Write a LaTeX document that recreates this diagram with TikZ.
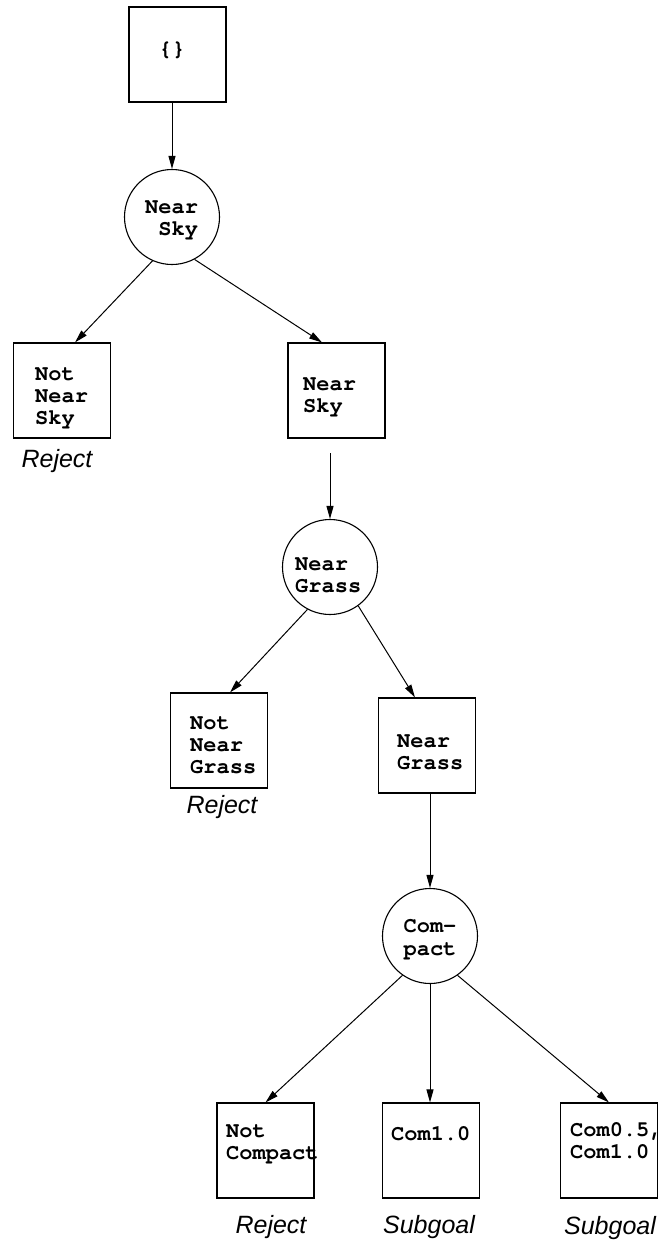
\documentclass[tikz,border=0pt]{standalone}
\usepackage{fontspec}
\setmonofont{texgyrecursor}[Extension=.otf, UprightFont=*-regular, BoldFont=*-bold, ItalicFont=*-italic, BoldItalicFont=*-bolditalic]
\setsansfont{Liberation Sans}
\usetikzlibrary{arrows.meta}
\tikzset{
  state/.style={draw, line width=1.1pt, minimum width=97pt, minimum height=95pt, inner sep=0pt},
  test/.style={draw, circle, line width=1.1pt, minimum size=95pt, inner sep=0pt},
  mono/.style={font=\ttfamily\bfseries\fontsize{22}{22}\selectfont, inner sep=0pt, anchor=base west},
  monoc/.style={font=\ttfamily\bfseries\fontsize{22}{22}\selectfont, inner sep=0pt, anchor=base},
  verdict/.style={font=\sffamily\itshape\fontsize{25}{25}\selectfont, inner sep=0pt},
  edge/.style={line width=1pt, -{Triangle[length=13pt,width=7pt]}},
}
\begin{document}
\begin{tikzpicture}[x=1pt,y=-1pt]
\useasboundingbox (0,0) rectangle (664,1245);

% states (boxes)
\node[state] (start)      at (177.5,54.5)  {};
\node[state] (notsky)     at (62,390.5)    {};
\node[state] (sky)        at (336.5,390.5) {};
\node[state] (notgrass)   at (219,740.5)   {};
\node[state] (grass)      at (427,745.5)   {};
\node[state] (notcompact) at (265.5,1150.5){};
\node[state] (comone)     at (431,1150.5)  {};
\node[state] (comhalf)    at (609,1150.5)  {};

% tests (circles)
\node[test] (qsky)     at (172,217) {};
\node[test] (qgrass)   at (330,567) {};
\node[test] (qcompact) at (430,936) {};

% box and circle texts
\node[font=\ttfamily\bfseries\fontsize{22}{22}\selectfont, inner sep=0pt] (tstart) at (172,50) {\{\}};

\node[mono] (tqsky1) at (145,213) {Near};
\node[mono] (tqsky2) at (145,235) {\ Sky};

\node[mono] (tnotsky1) at (35,380) {Not};
\node[mono] (tnotsky2) at (35,402) {Near};
\node[mono] (tnotsky3) at (35,424) {Sky};

\node[mono] (tsky1) at (303,390) {Near};
\node[mono] (tsky2) at (303,412) {Sky};

\node[mono] (tqgrass1) at (295,570) {Near};
\node[mono] (tqgrass2) at (295,592) {Grass};

\node[mono] (tnotgrass1) at (190,729) {Not};
\node[mono] (tnotgrass2) at (190,751) {Near};
\node[mono] (tnotgrass3) at (190,773) {Grass};

\node[mono] (tgrass1) at (397,747) {Near};
\node[mono] (tgrass2) at (397,769) {Grass};

\node[monoc] (tqcompact1) at (430,932) {Com-};
\node[monoc] (tqcompact2) at (430,955) {pact};

\node[mono] (tnotcompact1) at (226,1137) {Not};
\node[mono] (tnotcompact2) at (226,1159) {Compact};

\node[mono] (tcomone) at (391,1140) {Com1.0};

\node[mono] (tcomhalf1) at (570,1136) {Com0.5,};
\node[mono] (tcomhalf2) at (570,1158) {Com1.0};

% outcomes
\node[verdict] (v1) at (57,461)   {Reject};
\node[verdict] (v2) at (222,807)  {Reject};
\node[verdict] (v3) at (271,1227) {Reject};
\node[verdict] (v4) at (429,1227) {Subgoal};
\node[verdict] (v5) at (610,1228) {Subgoal};

% connectors
\coordinate (skyout) at (330,453);
\draw[edge] (start.south -| qsky) -- (qsky);
\draw[edge] (qsky.246) -- ([xshift=13pt]notsky.north);
\draw[edge] (qsky.298) -- ([xshift=-14.5pt]sky.north);
\draw[edge] (skyout) -- (qgrass);
\draw[edge] (qgrass.242) -- ([xshift=11pt]notgrass.north);
\draw[edge] (qgrass.306) -- ([xshift=-12pt]grass.north);
\draw[edge] (grass.south -| qcompact) -- (qcompact);
\draw[edge] (qcompact.235) -- (notcompact.north);
\draw[edge] (qcompact) -- (qcompact |- comone.north);
\draw[edge] (qcompact.305) -- (comhalf.north);
\end{tikzpicture}
\end{document}
